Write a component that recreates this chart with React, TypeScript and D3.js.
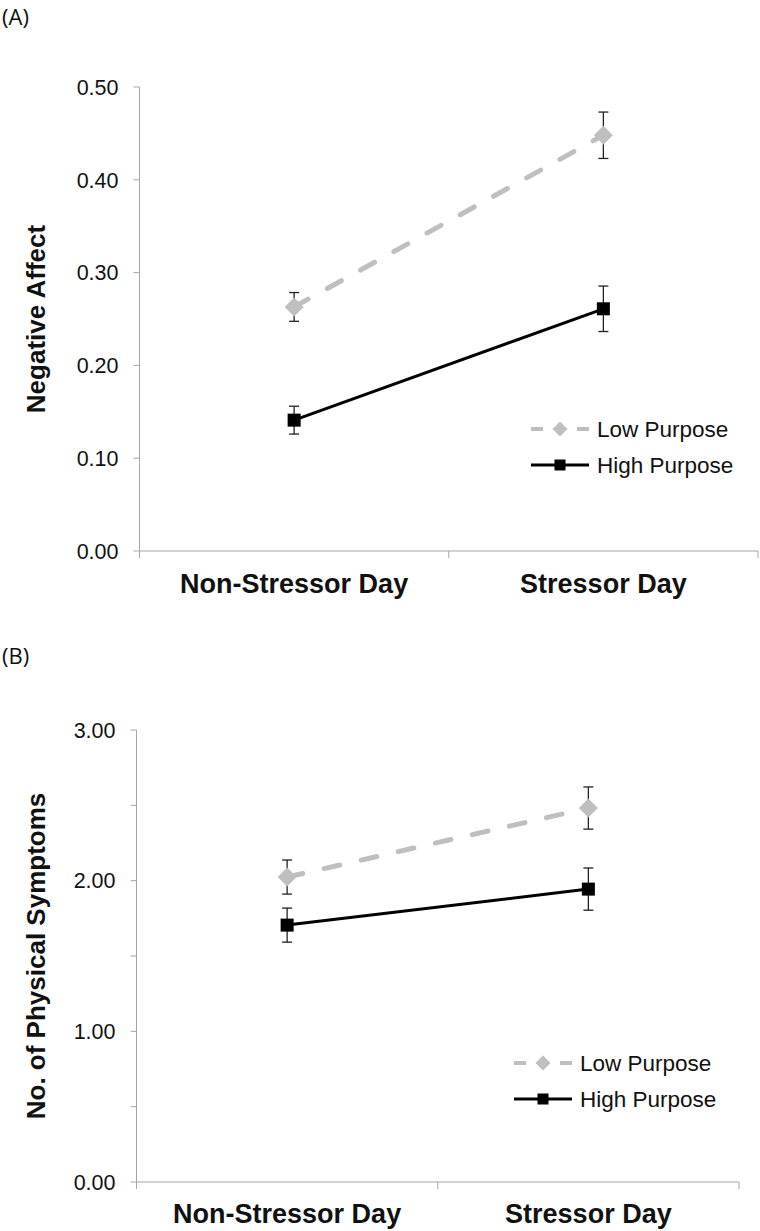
import React from "react";
import * as d3 from "d3";

const categories = ["Non-Stressor Day", "Stressor Day"];
const seriesNames = ["Low Purpose", "High Purpose"];

// Panel A: Negative Affect
const affectLow = [0.263, 0.448];
const affectLowErr = [0.0155, 0.025];
const affectHigh = [0.141, 0.261];
const affectHighErr = [0.015, 0.0245];
const affectTicks = [0, 0.1, 0.2, 0.3, 0.4, 0.5];
const affectLabels = [0, 0.1, 0.2, 0.3, 0.4, 0.5];

// Panel B: Physical symptoms
const sympLow = [2.024, 2.482];
const sympLowErr = [0.113, 0.14];
const sympHigh = [1.705, 1.944];
const sympHighErr = [0.113, 0.14];
const sympTicks = [0, 0.5, 1, 1.5, 2, 2.5, 3];
const sympLabels = [0, 1, 2, 3];

const GRAY = "#bfbfbf";
const AXIS = "#a6a6a6";
const SANS = "'Liberation Sans', Arial, sans-serif";

type PanelProps = {
  letter: string;
  letterY: number;
  title: string;
  left: number;
  right: number;
  top: number;
  bottom: number;
  yMax: number;
  ticks: number[];
  labels: number[];
  low: number[];
  lowErr: number[];
  high: number[];
  highErr: number[];
  legendX: number;
  legendY: number;
  legendGap: number;
  catY: number;
};

function Diamond({ x, y, r, fill }: { x: number; y: number; r: number; fill: string }) {
  const p = `M${x},${y - r}L${x + r},${y}L${x},${y + r}L${x - r},${y}Z`;
  return <path d={p} fill={fill} />;
}

function Panel(props: PanelProps) {
  const { left, right, top, bottom, yMax } = props;
  const x = d3.scaleBand<string>().domain(categories).range([left, right]);
  const y = d3.scaleLinear().domain([0, yMax]).range([bottom, top]);
  const cx = (c: string) => (x(c) as number) + x.bandwidth() / 2;
  const line = d3
    .line<number>()
    .x((_, i) => cx(categories[i]))
    .y((v) => y(v));
  const xTicks = [left, ...categories.map((c) => (x(c) as number) + x.bandwidth())];
  const errBars = (vals: number[], errs: number[], key: string) =>
    vals.map((v, i) => {
      const px = cx(categories[i]);
      const y1 = y(v + errs[i]);
      const y2 = y(v - errs[i]);
      return (
        <g key={key + i} stroke="#222" strokeWidth={1.3}>
          <line x1={px} x2={px} y1={y1} y2={y2} />
          <line x1={px - 5} x2={px + 5} y1={y1} y2={y1} />
          <line x1={px - 5} x2={px + 5} y1={y2} y2={y2} />
        </g>
      );
    });
  const lx = props.legendX;
  const ly = props.legendY;
  const ly2 = ly + props.legendGap;
  return (
    <g>
      <text x={2} y={props.letterY} fontFamily="'Open Sans', sans-serif" fontSize={22} fill="#111">
        {props.letter}
      </text>
      {/* y axis */}
      <line x1={left} x2={left} y1={top} y2={bottom} stroke={AXIS} strokeWidth={1} />
      {props.ticks.map((t) => (
        <line key={"t" + t} x1={left - 6} x2={left} y1={y(t)} y2={y(t)} stroke={AXIS} strokeWidth={1} />
      ))}
      {props.labels.map((t) => (
        <text
          key={"l" + t}
          x={left - 21}
          y={y(t)}
          dy="0.36em"
          textAnchor="end"
          fontFamily={SANS}
          fontSize={21.5}
          fill="#111"
        >
          {d3.format(".2f")(t)}
        </text>
      ))}
      <text
        transform={`translate(${45},${(top + bottom) / 2}) rotate(-90)`}
        textAnchor="middle"
        fontFamily={SANS}
        fontWeight="bold"
        fontSize={26}
        fill="#111"
      >
        {props.title}
      </text>
      {/* x axis */}
      <line x1={left} x2={right} y1={bottom} y2={bottom} stroke={AXIS} strokeWidth={1} />
      {xTicks.map((t, i) => (
        <line key={"xt" + i} x1={t} x2={t} y1={bottom} y2={bottom + 7} stroke={AXIS} strokeWidth={1} />
      ))}
      {categories.map((c) => (
        <text
          key={c}
          x={cx(c)}
          y={props.catY}
          textAnchor="middle"
          fontFamily={SANS}
          fontWeight="bold"
          fontSize={27}
          fill="#111"
        >
          {c}
        </text>
      ))}
      {/* series lines */}
      <path
        d={line(props.low) as string}
        fill="none"
        stroke={GRAY}
        strokeWidth={5}
        strokeDasharray="16 22"
        strokeLinecap="round"
      />
      <path d={line(props.high) as string} fill="none" stroke="#000" strokeWidth={3} />
      {errBars(props.low, props.lowErr, "el")}
      {errBars(props.high, props.highErr, "eh")}
      {props.low.map((v, i) => (
        <Diamond key={"d" + i} x={cx(categories[i])} y={y(v)} r={9.5} fill={GRAY} />
      ))}
      {props.high.map((v, i) => (
        <rect key={"s" + i} x={cx(categories[i]) - 6.5} y={y(v) - 6.5} width={13} height={13} fill="#000" />
      ))}
      {/* legend */}
      <line x1={lx} x2={lx + 12} y1={ly} y2={ly} stroke={GRAY} strokeWidth={4} />
      <line x1={lx + 46} x2={lx + 58} y1={ly} y2={ly} stroke={GRAY} strokeWidth={4} />
      <Diamond x={lx + 29} y={ly} r={7.5} fill={GRAY} />
      <text x={lx + 66} y={ly} dy="0.36em" fontFamily={SANS} fontSize={22.5} fill="#111">
        {seriesNames[0]}
      </text>
      <line x1={lx} x2={lx + 58} y1={ly2} y2={ly2} stroke="#000" strokeWidth={3} />
      <rect x={lx + 29 - 5.5} y={ly2 - 5.5} width={11} height={11} fill="#000" />
      <text x={lx + 66} y={ly2} dy="0.36em" fontFamily={SANS} fontSize={22.5} fill="#111">
        {seriesNames[1]}
      </text>
    </g>
  );
}

export default function App() {
  return (
    <svg
      width={760}
      height={1231}
      style={{ position: "absolute", left: 0, top: 0, background: "#fff" }}
    >
      <rect width={760} height={1231} fill="#fff" />
      <Panel
        letter="(A)"
        letterY={25}
        title="Negative Affect"
        left={139.5}
        right={758}
        top={87}
        bottom={551}
        yMax={0.5}
        ticks={affectTicks}
        labels={affectLabels}
        low={affectLow}
        lowErr={affectLowErr}
        high={affectHigh}
        highErr={affectHighErr}
        legendX={531}
        legendY={429}
        legendGap={36}
        catY={593}
      />
      <Panel
        letter="(B)"
        letterY={664}
        title="No. of Physical Symptoms"
        left={136.5}
        right={739}
        top={730}
        bottom={1182}
        yMax={3}
        ticks={sympTicks}
        labels={sympLabels}
        low={sympLow}
        lowErr={sympLowErr}
        high={sympHigh}
        highErr={sympHighErr}
        legendX={514}
        legendY={1063}
        legendGap={36}
        catY={1223}
      />
    </svg>
  );
}
